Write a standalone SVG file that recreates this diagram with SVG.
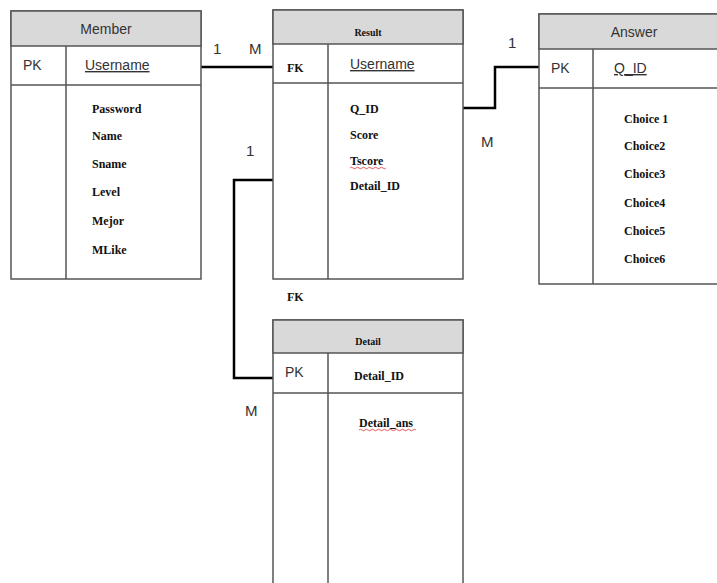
<svg xmlns="http://www.w3.org/2000/svg" width="717" height="583" viewBox="0 0 717 583">
<style>
.box{fill:#fff;stroke:#555;stroke-width:1.5}
.hdr{fill:#d9d9d9;stroke:#555;stroke-width:1.5}
.ln{stroke:#555;stroke-width:1.5;fill:none}
.sans{font-family:"Liberation Sans",Arial,sans-serif;font-size:14px;fill:#333}
.title{font-family:"Liberation Sans",Arial,sans-serif;font-size:14px;fill:#333;text-anchor:middle}
.ser{font-family:"Liberation Serif","Times New Roman",serif;font-size:12px;font-weight:bold;fill:#111}
.sert{font-family:"Liberation Serif","Times New Roman",serif;font-size:10px;font-weight:bold;fill:#111;text-anchor:middle}
.ul{text-decoration:underline}
.card{font-family:"Liberation Sans",Arial,sans-serif;font-size:15px;fill:#333}
.conn{stroke:#000;stroke-width:2.5;fill:none}
.wavy{stroke:#e03030;stroke-width:0.8;fill:none}
</style>
<g id="connectors">
<polyline class="conn" points="201,67 273,67"/>
<polyline class="conn" points="463,108 495,108 495,67 540,67"/>
<polyline class="conn" points="273,180 234,180 234,378 273,378"/>
<text class="card" x="213" y="54">1</text>
<text class="card" x="249" y="54">M</text>
<text class="card" x="246" y="156">1</text>
<text class="card" x="508" y="48">1</text>
<text class="card" x="481" y="147">M</text>
<text class="card" x="245" y="416">M</text>
</g>
<g id="member">
<rect class="box" x="11" y="11" width="190" height="268"/>
<rect class="hdr" x="11" y="11" width="190" height="35"/>
<line class="ln" x1="11" y1="85" x2="201" y2="85"/>
<line class="ln" x1="66" y1="46" x2="66" y2="279"/>
<text class="title" x="106" y="34">Member</text>
<text class="sans" x="23" y="70">PK</text>
<text class="sans ul" x="85" y="70">Username</text>
<text class="ser" x="92" y="113">Password</text>
<text class="ser" x="92" y="140">Name</text>
<text class="ser" x="92" y="168">Sname</text>
<text class="ser" x="92" y="196">Level</text>
<text class="ser" x="92" y="225">Mejor</text>
<text class="ser" x="92" y="254">MLike</text>
</g>
<g id="result">
<rect class="box" x="273" y="10" width="190" height="269"/>
<rect class="hdr" x="273" y="10" width="190" height="34"/>
<line class="ln" x1="273" y1="83" x2="463" y2="83"/>
<line class="ln" x1="328" y1="44" x2="328" y2="279"/>
<text class="sert" x="368" y="36">Result</text>
<text class="ser" x="287" y="72" font-size="11">FK</text>
<text class="sans ul" x="350" y="69">Username</text>
<text class="ser" x="350" y="113">Q_ID</text>
<text class="ser" x="350" y="139" font-size="11">Score</text>
<text class="ser" x="350" y="165" font-size="11">Tscore</text>
<path class="wavy" d="M350,168 q1.5,-1.5 3,0 t3,0 t3,0 t3,0 t3,0 t3,0 t3,0 t3,0 t3,0 t3,0 t3,0 t3,0"/>
<text class="ser" x="350" y="190">Detail_ID</text>
<text class="ser" x="287" y="301" font-size="11">FK</text>
</g>
<g id="answer">
<rect class="box" x="539" y="14" width="190" height="270"/>
<rect class="hdr" x="539" y="14" width="190" height="35"/>
<line class="ln" x1="539" y1="88" x2="717" y2="88"/>
<line class="ln" x1="593" y1="49" x2="593" y2="284"/>
<text class="title" x="634" y="37">Answer</text>
<text class="sans" x="551" y="73">PK</text>
<text class="sans ul" x="614" y="73">Q_ID</text>
<text class="ser" x="624" y="123">Choice 1</text>
<text class="ser" x="624" y="150">Choice2</text>
<text class="ser" x="624" y="178">Choice3</text>
<text class="ser" x="624" y="207">Choice4</text>
<text class="ser" x="624" y="235">Choice5</text>
<text class="ser" x="624" y="263">Choice6</text>
</g>
<g id="detail">
<rect class="box" x="273" y="320" width="190" height="275"/>
<rect class="hdr" x="273" y="320" width="190" height="33"/>
<line class="ln" x1="273" y1="393" x2="463" y2="393"/>
<line class="ln" x1="328" y1="353" x2="328" y2="583"/>
<text class="sert" x="368" y="345">Detail</text>
<text class="sans" x="285" y="377">PK</text>
<text class="ser" x="354" y="380">Detail_ID</text>
<text class="ser" x="359" y="427">Detail_ans</text>
<path class="wavy" d="M359,430 q1.5,-1.5 3,0 t3,0 t3,0 t3,0 t3,0 t3,0 t3,0 t3,0 t3,0 t3,0 t3,0 t3,0 t3,0 t3,0 t3,0 t3,0 t3,0 t3,0 t3,0"/>
</g>
</svg>
